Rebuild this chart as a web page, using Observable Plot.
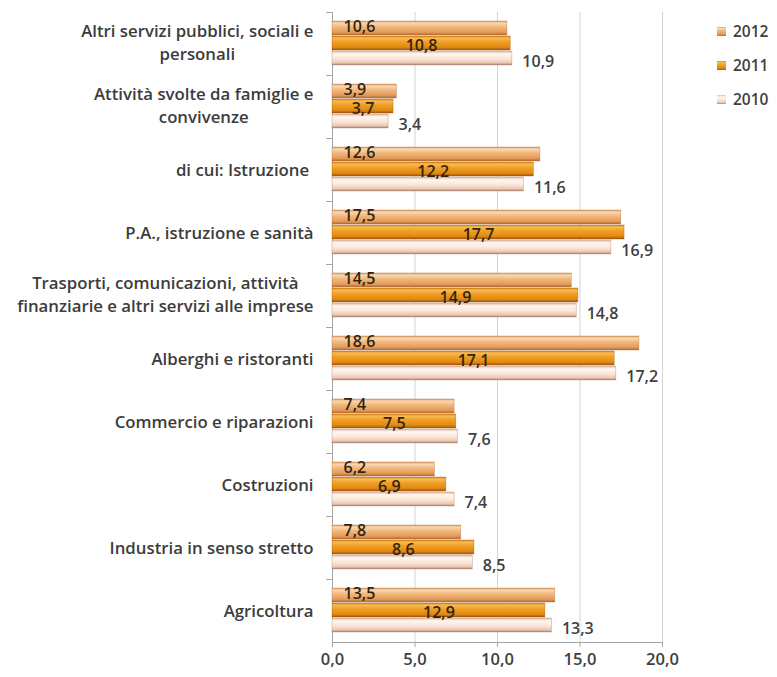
<!DOCTYPE html>
<html><head><meta charset="utf-8">
<script src="https://cdn.jsdelivr.net/npm/d3@7"></script>
<script src="https://cdn.jsdelivr.net/npm/@observablehq/plot@0.6"></script>
<style>
body{margin:0;background:#fff;}
#wrap{position:relative;width:777px;height:677px;font-family:"Open Sans", sans-serif;}
#legend{position:absolute;left:717px;top:14px;}
#legend .row{display:flex;align-items:center;height:34px;font-size:15.5px;font-weight:600;color:#404040;}
#legend .sw{width:9px;height:9px;margin-right:7px;}
</style></head><body><div id="wrap"><div id="legend"></div></div>
<script>
const categories = [
  "Altri servizi pubblici, sociali e\npersonali",
  "Attività svolte da famiglie e\nconvivenze",
  "di cui: Istruzione ",
  "P.A., istruzione e sanità",
  "Trasporti, comunicazioni, attività\nfinanziarie e altri servizi alle imprese",
  "Alberghi e ristoranti",
  "Commercio e riparazioni",
  "Costruzioni",
  "Industria in senso stretto",
  "Agricoltura"
];
const years = ["2012", "2011", "2010"];
const v2012 = [10.6, 3.9, 12.6, 17.5, 14.5, 18.6, 7.4, 6.2, 7.8, 13.5];
const v2011 = [10.8, 3.7, 12.2, 17.7, 14.9, 17.1, 7.5, 6.9, 8.6, 12.9];
const v2010 = [10.9, 3.4, 11.6, 16.9, 14.8, 17.2, 7.6, 7.4, 8.5, 13.3];
const xTicks = [0, 5, 10, 15, 20];

const series = {"2012": v2012, "2011": v2011, "2010": v2010};
const data = categories.flatMap((c, i) => years.map(y => ({cat: c, year: y, value: series[y][i]})));
const fmt = d => d3.format(".1f")(d).replace(".", ",");
const byYear = y => data.filter(d => d.year === y);

const grads = {
  "2012": [[0,"#dc9a5c"],[0.15,"#f9d9b2"],[0.45,"#f1b57a"],[0.8,"#e39c5a"],[1,"#b06a38"]],
  "2011": [[0,"#d98612"],[0.15,"#f8bb55"],[0.45,"#f09c22"],[0.8,"#e08a12"],[1,"#a2560e"]],
  "2010": [[0,"#e2b8a0"],[0.2,"#fff6ef"],[0.55,"#fbe7da"],[0.85,"#e9c6b2"],[1,"#a98272"]]
};

const labelStyle = {fontSize: 16, fontWeight: 600};
const catFontSize = 16.8;

// measure category label blocks: each block right-aligned, its lines centred
const ctx = document.createElement("canvas").getContext("2d");
ctx.font = `600 ${catFontSize}px 'Open Sans'`;
const blockWidth = c => d3.max(c.split("\n"), s => ctx.measureText(s).width);

const chart = Plot.plot({
  width: 777,
  height: 677,
  marginLeft: 332,
  marginRight: 115,
  marginTop: 12,
  marginBottom: 35,
  style: {fontFamily: "'Open Sans', sans-serif", fontSize: "14px", color: "#404040", background: "#fff"},
  x: {domain: [0, 20]},
  y: {domain: years, axis: null, paddingInner: 0.04, paddingOuter: 0.6},
  fy: {domain: categories, paddingInner: 0, paddingOuter: 0, axis: null, label: null},
  marks: [
    Plot.gridX(xTicks.slice(1), {stroke: "#d4d4d4", strokeOpacity: 1}),
    Plot.ruleX([0], {stroke: "#a6a6a6"}),
    Plot.frame({anchor: "top", stroke: "#a6a6a6", insetLeft: -6, insetRight: 330}),
    Plot.frame({anchor: "bottom", facet: "super", stroke: "#a6a6a6"}),
    ...years.map(y => Plot.barX(byYear(y), {x: "value", y: "year", fy: "cat", fill: `url(#g${y})`, stroke: grads[y][4][1], strokeWidth: 0.6, strokeOpacity: 0.6})),
    Plot.text(byYear("2012"), {x: 0, y: "year", fy: "cat", text: d => fmt(d.value), textAnchor: "start", dx: 11, dy: -2, fill: "#33240f", ...labelStyle}),
    Plot.text(byYear("2011"), {x: d => d.value / 2, y: "year", fy: "cat", text: d => fmt(d.value), textAnchor: "middle", dy: 2, fill: "#33240f", ...labelStyle}),
    Plot.text(byYear("2010"), {x: "value", y: "year", fy: "cat", text: d => fmt(d.value), textAnchor: "start", dx: 10, dy: 3, fill: "#404040", ...labelStyle}),
    Plot.axisX(xTicks, {anchor: "bottom", tickFormat: fmt, tickSize: 5, tickPadding: 6, stroke: "#a6a6a6", fill: "#404040", fontSize: 16.5, fontWeight: 600, label: null}),
    ...categories.map(c => Plot.text([c], {fy: d => d, text: d => d, frameAnchor: "left", textAnchor: "middle", dx: -(19 + blockWidth(c) / 2), dy: c.includes("\n") ? -3 : -1, lineHeight: 1.36, fontSize: catFontSize, fontWeight: 600, fill: "#3c3c3c"}))
  ]
});

// gradient definitions for cylinder-like bars
const svg = d3.select(chart);
const defs = svg.insert("defs", ":first-child");
for (const y of years) {
  const g = defs.append("linearGradient").attr("id", "g" + y)
    .attr("x1", 0).attr("y1", 0).attr("x2", 0).attr("y2", 1);
  for (const [o, c] of grads[y]) g.append("stop").attr("offset", o).attr("stop-color", c);
}
document.getElementById("wrap").prepend(chart);

const legend = d3.select("#legend");
for (const y of years) {
  const row = legend.append("div").attr("class", "row");
  row.append("div").attr("class", "sw")
    .style("background", `linear-gradient(${grads[y].map(([o, c]) => c + " " + o * 100 + "%").join(",")})`);
  row.append("span").text(y);
}
</script>
</body></html>
